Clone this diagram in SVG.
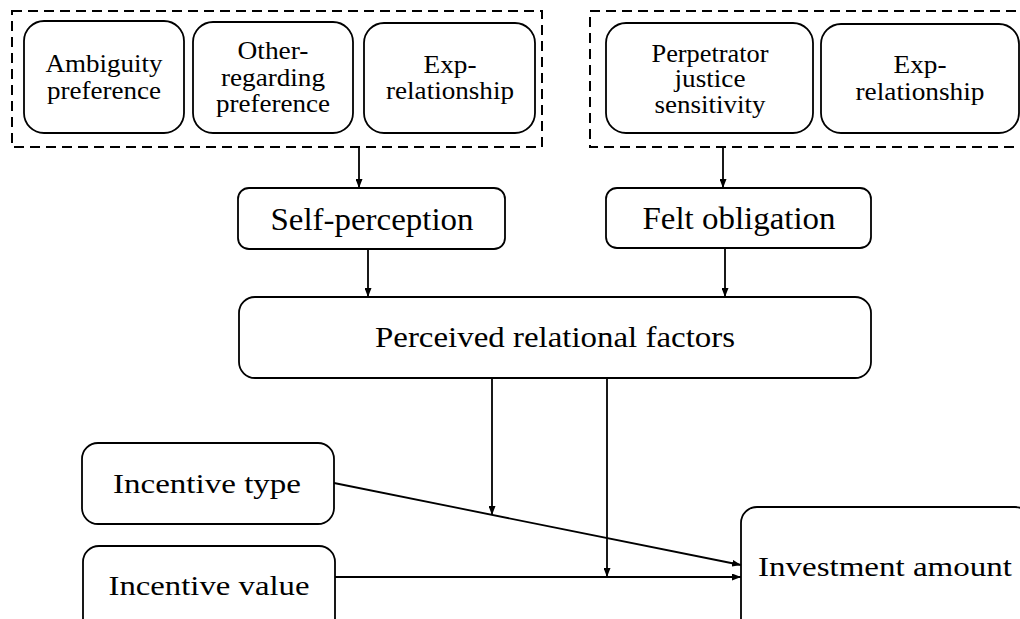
<svg xmlns="http://www.w3.org/2000/svg" width="1020" height="619" viewBox="0 0 1020 619">
<defs>
<marker id="arr" viewBox="0 0 9 7" refX="9" refY="3.5" markerWidth="9" markerHeight="7" markerUnits="userSpaceOnUse" orient="auto">
<path d="M0,0 L9,3.5 L0,7 z" fill="#000"/>
</marker>
<style>
.box{fill:#fff;stroke:#000;stroke-width:1.8}
.dash{fill:none;stroke:#000;stroke-width:2;stroke-dasharray:10 6}
.c{fill:none;stroke:#000;stroke-width:1.8;marker-end:url(#arr)}
.a{font-size:25px}
.b{font-size:31px}
.p{font-size:30px}
.d{font-size:28px}
</style>
</defs>
<g id="group-left">
<rect class="dash" x="12" y="11" width="530" height="136"/>
</g>
<g id="group-right">
<rect class="dash" x="590" y="11" width="440" height="136"/>
</g>
<g font-family="Liberation Serif, Times New Roman, serif" text-anchor="middle" fill="#000" lengthAdjust="spacingAndGlyphs">
<g id="ambiguity">
<rect class="box" x="24" y="21" width="160" height="112" rx="20"/>
<text class="a" x="104" y="72" textLength="117" lengthAdjust="spacingAndGlyphs">Ambiguity</text>
<text class="a" x="104" y="99" textLength="114" lengthAdjust="spacingAndGlyphs">preference</text>
</g>
<g id="other-regarding">
<rect class="box" x="193" y="22" width="160" height="111" rx="20"/>
<text class="a" x="273" y="59" textLength="71" lengthAdjust="spacingAndGlyphs">Other-</text>
<text class="a" x="273" y="86" textLength="104" lengthAdjust="spacingAndGlyphs">regarding</text>
<text class="a" x="273" y="112" textLength="114" lengthAdjust="spacingAndGlyphs">preference</text>
</g>
<g id="exp-left">
<rect class="box" x="364" y="23" width="171" height="110" rx="20"/>
<text class="a" x="450" y="73" textLength="53" lengthAdjust="spacingAndGlyphs">Exp-</text>
<text class="a" x="450" y="99" textLength="128" lengthAdjust="spacingAndGlyphs">relationship</text>
</g>
<g id="perpetrator">
<rect class="box" x="606" y="23" width="207" height="110" rx="20"/>
<text class="a" x="710" y="62" textLength="117" lengthAdjust="spacingAndGlyphs">Perpetrator</text>
<text class="a" x="710" y="87" textLength="71" lengthAdjust="spacingAndGlyphs">justice</text>
<text class="a" x="710" y="113" textLength="111" lengthAdjust="spacingAndGlyphs">sensitivity</text>
</g>
<g id="exp-right">
<rect class="box" x="821" y="24" width="198" height="109" rx="20"/>
<text class="a" x="920" y="73" textLength="53" lengthAdjust="spacingAndGlyphs">Exp-</text>
<text class="a" x="920" y="100" textLength="129" lengthAdjust="spacingAndGlyphs">relationship</text>
</g>
<g id="self-perception">
<rect class="box" x="238" y="188" width="267" height="61" rx="11"/>
<text class="b" x="372" y="230" textLength="203" lengthAdjust="spacingAndGlyphs">Self-perception</text>
</g>
<g id="felt-obligation">
<rect class="box" x="606" y="188" width="265" height="60" rx="11"/>
<text class="b" x="739" y="229" textLength="193" lengthAdjust="spacingAndGlyphs">Felt obligation</text>
</g>
<g id="perceived">
<rect class="box" x="239" y="297" width="632" height="81" rx="16"/>
<text class="p" x="555" y="347" textLength="360" lengthAdjust="spacingAndGlyphs">Perceived relational factors</text>
</g>
<g id="incentive-type">
<rect class="box" x="82" y="443" width="252" height="81" rx="16"/>
<text class="d" x="207" y="493" textLength="188" lengthAdjust="spacingAndGlyphs">Incentive type</text>
</g>
<g id="incentive-value">
<rect class="box" x="83" y="546" width="252" height="100" rx="16"/>
<text class="d" x="209" y="595" textLength="201" lengthAdjust="spacingAndGlyphs">Incentive value</text>
</g>
<g id="investment">
<rect class="box" x="741" y="507" width="290" height="140" rx="16"/>
<text class="d" x="885" y="576" textLength="254" lengthAdjust="spacingAndGlyphs">Investment amount</text>
</g>
</g>
<g id="connectors">
<line class="c" x1="359" y1="147" x2="359" y2="188"/>
<line class="c" x1="723" y1="147" x2="723" y2="188"/>
<line class="c" x1="368" y1="249" x2="368" y2="297"/>
<line class="c" x1="725" y1="248" x2="725" y2="297"/>
<line class="c" x1="492" y1="378" x2="492" y2="515"/>
<line class="c" x1="607" y1="378" x2="607" y2="577"/>
<line class="c" x1="334" y1="483" x2="741" y2="565"/>
<line class="c" x1="335" y1="577" x2="741" y2="577"/>
</g>
</svg>
